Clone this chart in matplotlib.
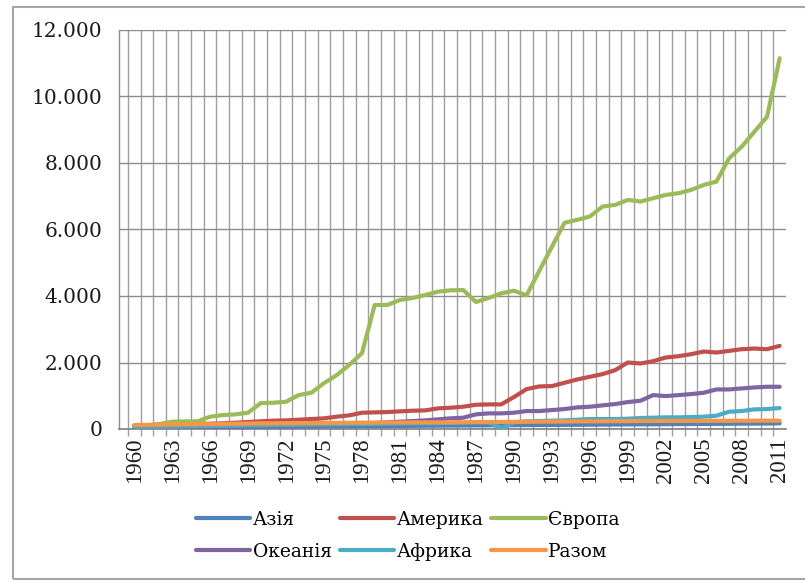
import matplotlib
matplotlib.use("Agg")
import matplotlib.pyplot as plt
from matplotlib.patches import Rectangle
import numpy as np

years = list(range(1960, 2012))

asia = [40, 42, 45, 48, 50, 52, 55, 58, 60, 62, 65, 68, 70, 72, 75, 78, 80, 82, 85, 88,
        90, 92, 95, 98, 100, 102, 105, 108, 110, 112, 115, 118, 120, 122, 125, 128, 130, 132,
        135, 138, 140, 142, 145, 148, 150, 152, 155, 158, 160, 162, 165, 170]

america = [100, 110, 120, 130, 140, 150, 160, 170, 190, 210, 230, 250, 260, 280, 300, 320,
           370, 410, 490, 500, 510, 530, 550, 560, 620, 640, 670, 730, 740, 740, 960, 1200,
           1280, 1290, 1390, 1490, 1570, 1650, 1770, 2000, 1970, 2040, 2150, 2190, 2250, 2330,
           2300, 2350, 2400, 2420, 2400, 2500]

europe = [100, 110, 150, 220, 230, 230, 370, 420, 440, 490, 780, 790, 820, 1020, 1090, 1380,
          1620, 1930, 2280, 3730, 3730, 3880, 3940, 4030, 4130, 4170, 4180, 3820, 3940, 4080,
          4160, 4020, 4750, 5480, 6200, 6290, 6390, 6690, 6740, 6890, 6840, 6940, 7040, 7090,
          7190, 7340, 7440, 8140, 8490, 8940, 9390, 11150]

oceania = [30, 35, 40, 45, 50, 55, 60, 65, 70, 80, 90, 100, 105, 110, 115, 120, 130, 140, 160,
           180, 200, 220, 240, 260, 290, 320, 340, 440, 470, 470, 490, 540, 540, 570, 600, 650,
           670, 710, 750, 810, 850, 1020, 990, 1020, 1050, 1090, 1190, 1190, 1220, 1250, 1270,
           1270]

africa = [60, 65, 70, 75, 80, 85, 90, 95, 100, 105, 110, 115, 120, 125, 130, 135, 140, 145,
          150, 155, 160, 165, 170, 172, 175, 180, 190, 200, 200, 20, 200, 230, 240, 250, 260,
          280, 300, 300, 300, 310, 330, 340, 350, 350, 360, 370, 400, 520, 540, 590, 600, 630]

razom = [120, 125, 130, 135, 140, 145, 150, 155, 160, 165, 170, 172, 175, 178, 180, 182, 185,
         188, 190, 192, 194, 196, 198, 199, 200, 202, 205, 208, 210, 212, 215, 218, 220, 222,
         225, 228, 230, 232, 235, 237, 240, 241, 242, 243, 244, 245, 246, 247, 248, 249, 250,
         250]

series = [
    ("Азія", asia, "#4F81BD"),
    ("Америка", america, "#C0504D"),
    ("Європа", europe, "#9BBB59"),
    ("Океанія", oceania, "#8064A2"),
    ("Африка", africa, "#4BACC6"),
    ("Разом", razom, "#F79646"),
]

yticks = [0, 2000, 4000, 6000, 8000, 10000, 12000]
ytick_labels = ["0", "2.000", "4.000", "6.000", "8.000", "10.000", "12.000"]
xtick_years = list(range(1960, 2012, 3))

W, H = 805, 583
fig = plt.figure(figsize=(W / 100, H / 100), dpi=100)
fig.patch.set_facecolor("white")

# outer chart border
fig.patches.append(Rectangle((13 / W, 4 / H), 1.0, 1 - 11 / H, transform=fig.transFigure,
                             fill=False, edgecolor="#A6A6A6", linewidth=1.5, zorder=0))

ax = fig.add_axes([119 / W, 1 - 429 / H, (786 - 119) / W, (429 - 30) / H])

for name, vals, col in series:
    ax.plot(years, vals, color=col, linewidth=3.0, label=name, solid_capstyle="round",
            zorder=3)

ax.set_xlim(1958.8, 2011.5)
ax.set_ylim(0, 12000)

# horizontal gridlines
ax.set_yticks(yticks)
ax.set_yticklabels(ytick_labels, fontfamily="DejaVu Serif", fontsize=14.5)
ax.tick_params(axis="y", length=0, pad=12, colors="#1a1a1a")
ax.yaxis.grid(True, color="#8C8C8C", linewidth=1.0)

# vertical gridlines at category boundaries
bounds = [y + 0.5 for y in range(1959, 2011)]
ax.set_xticks(bounds, minor=True)
ax.xaxis.grid(True, which="minor", color="#A0A0A0", linewidth=1.0)
ax.tick_params(axis="x", which="minor", length=5, width=1.0, color="#A0A0A0",
               direction="out")
ax.set_xticks(xtick_years)
ax.set_xticklabels([str(y) for y in xtick_years], rotation=90,
                   fontfamily="Liberation Serif", fontsize=16.5)
ax.tick_params(axis="x", which="major", length=0, pad=6, colors="#1a1a1a")
ax.set_axisbelow(True)

for s in ["top", "right"]:
    ax.spines[s].set_visible(False)
ax.spines["left"].set_color("#8C8C8C")
ax.spines["bottom"].set_color("#7F7F7F")
ax.spines["left"].set_linewidth(1.0)
ax.spines["bottom"].set_linewidth(1.2)

handles, labels = ax.get_legend_handles_labels()
order = [0, 3, 1, 4, 2, 5]
leg = fig.legend([handles[i] for i in order], [labels[i] for i in order],
                 loc="center", ncol=3,
                 bbox_to_anchor=(408 / W, 1 - 536 / H), frameon=False,
                 prop={"family": "DejaVu Serif", "size": 13.5},
                 handlelength=2.9, handletextpad=0.15, columnspacing=0.4,
                 labelspacing=0.75)
for line in leg.get_lines():
    line.set_linewidth(3.0)

fig.savefig("out.png", dpi=100, facecolor="white")
